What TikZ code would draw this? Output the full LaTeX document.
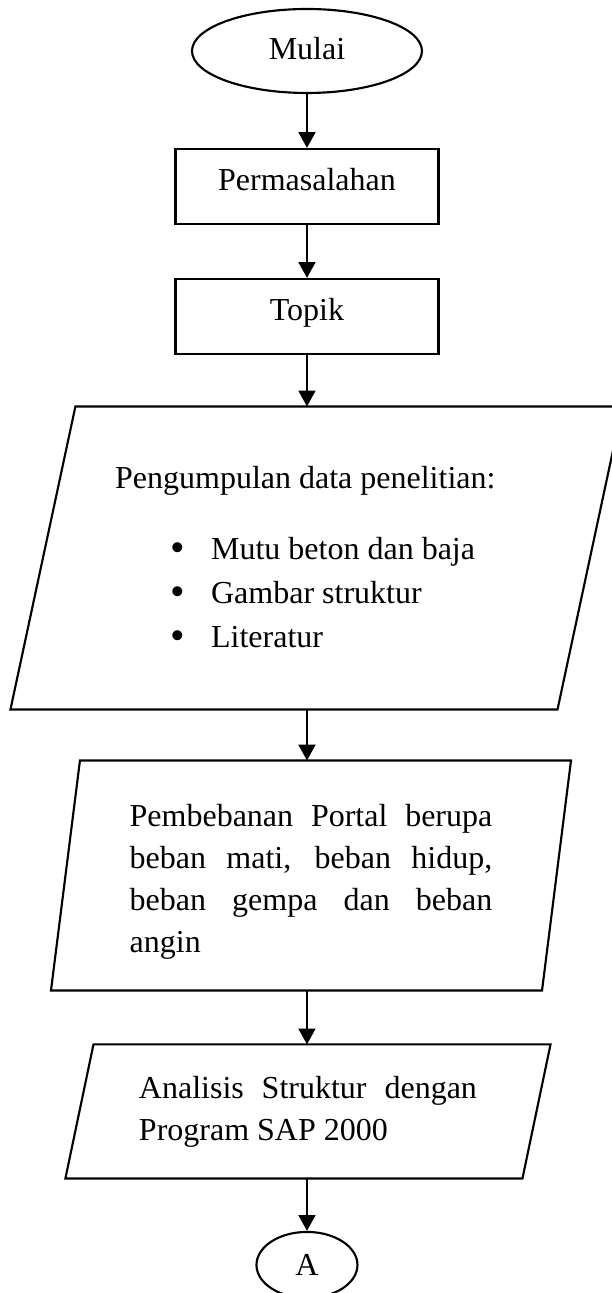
\documentclass[tikz,border=0pt]{standalone}
\usepackage{fontspec}
\setmainfont{Liberation Serif}
\usetikzlibrary{shapes,arrows.meta,positioning,calc}
\tolerance=10000
\hyphenpenalty=10000
\tikzstyle{terminal} = [draw, ellipse, line width=0.8pt, inner sep=0pt, text=black]
\tikzstyle{block} = [draw, rectangle, line width=0.8pt, text depth=5.25pt,
    minimum height=0.988cm, minimum width=3.466cm, text=black, align=center]
\tikzstyle{io} = [rectangle, inner sep=0pt, text=black]
\tikzstyle{arr} = [draw, line width=0.8pt, ->]
\newcommand{\butir}[1]{\hspace*{20.6pt}\makebox[15.4pt][l]{\raisebox{-0.8pt}{\scalebox{1.3}{\textbullet}}}#1}
% jajaran genjang di sekeliling node: #1 = node, #2 = setengah geser
\newcommand{\jajar}[2]{\draw [line width=0.8pt] ($(#1.north west)+(#2,0)$) -- ($(#1.north east)+(#2,0)$)
    -- ($(#1.south east)-(#2,0)$) -- ($(#1.south west)-(#2,0)$) -- cycle;}

\begin{document}
\begin{tikzpicture}[auto, node distance=2cm, >={Triangle[length=5.9pt,width=6.3pt]},
    font=\fontsize{12}{15.75}\selectfont]
    \useasboundingbox (-4.046,-16.370) rectangle (4.020,0.672);
    \node [terminal, minimum width=3.031cm, minimum height=1.107cm, text depth=2.25pt] (mulai) {Mulai};
    \node [block, below of=mulai, node distance=1.786cm] (masalah) {Permasalahan};
    \node [block, below of=masalah, node distance=1.713cm] (topik) {Topik};

    % data penelitian
    \node [io, below of=topik, node distance=3.183cm, xshift=0.125cm,
        minimum width=7.196cm, minimum height=3.980cm,
        text width=151pt, align=flush left, font=\fontsize{12}{16.5}\selectfont] (data)
        {Pengumpulan data penelitian:\\[10.1pt]
         \butir{Mutu beton dan baja}\\
         \butir{Gambar struktur}\\
         \butir{Literatur}};
    \jajar{data}{0.428}
    \node [io, below of=data, node distance=4.185cm, xshift=-0.072cm,
        minimum width=6.458cm, minimum height=3.018cm,
        text width=136pt, align=justify] (beban)
        {\rule{0pt}{12.75pt}Pembebanan Portal berupa beban mati, beban hidup, beban gempa dan beban angin};
    \jajar{beban}{0.191}
    \node [io, below of=beban, node distance=3.110cm, xshift=-0.040cm,
        minimum width=6.010cm, minimum height=1.753cm,
        text width=126.75pt, align=justify] (analisis)
        {Analisis Struktur dengan Program SAP 2000};
    \jajar{analisis}{0.185}
    \node [terminal, below of=analisis, node distance=2.023cm, xshift=-0.013cm,
        minimum width=1.331cm, minimum height=0.870cm] (hubung) {A};

    \draw [arr] (mulai) -- (masalah);
    \draw [arr] (masalah) -- (topik);
    \draw [arr] (topik) -- (topik |- data.north);
    \draw [arr] (data.south -| topik) -- (beban.north -| topik);
    \draw [arr] (beban.south -| topik) -- (analisis.north -| topik);
    \draw [arr] (analisis.south -| hubung) -- (hubung);
\end{tikzpicture}
\end{document}
